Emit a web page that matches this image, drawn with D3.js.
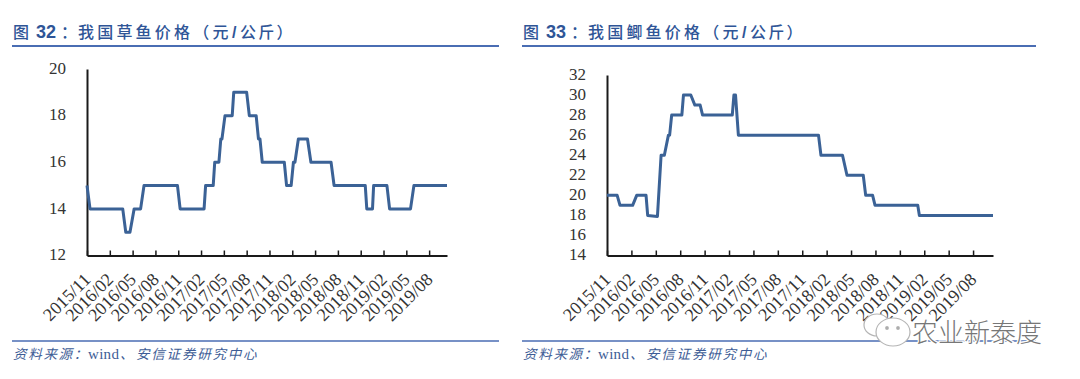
<!DOCTYPE html>
<html>
<head>
<meta charset="utf-8">
<script src="https://cdnjs.cloudflare.com/ajax/libs/d3/7.8.5/d3.min.js"></script>
<style>
  html, body { margin: 0; padding: 0; background: #fff; }
  svg { display: block; }
</style>
</head>
<body>
<svg id="chart" width="1080" height="379"></svg>
<script>
// tick labels every 3 months, shared by both charts
const tickLabels = ['2015/11', '2016/02', '2016/05', '2016/08', '2016/11', '2017/02', '2017/05', '2017/08',
    '2017/11', '2018/02', '2018/05', '2018/08', '2018/11', '2019/02', '2019/05', '2019/08'];
const tickMonths = tickLabels.map((d, i) => i * 3);

// months since 2015/11 and price
const grassMonths = [0, 0.4, 4.7, 5.1, 5.65, 6.2, 7.05, 7.5, 11.9, 12.25, 15.4, 15.6, 16.6, 16.8, 17.35, 17.6, 17.75,
    18.15, 19.1, 19.3, 21, 21.35, 22.25, 22.55, 22.75, 23.05, 25.95, 26.25, 26.85, 27.15, 27.35, 27.8, 29, 29.45,
    32.1, 32.5, 36.6, 36.8, 37.55, 37.7, 39.45, 39.8, 42.55, 43, 47.35];
const grassPrice = [15, 14, 14, 13, 13, 14, 14, 15, 15, 14, 14, 15, 15, 16, 16, 17, 17,
    18, 18, 19, 19, 18, 18, 17, 17, 16, 16, 15, 15, 16, 16, 17, 17, 16,
    16, 15, 15, 14, 14, 15, 15, 14, 14, 15, 15];

const crucianMonths = [0, 1.25, 1.6, 3.15, 3.65, 4.8, 5, 6.2, 6.65, 7.05, 7.55, 7.7, 7.95, 9.2, 9.4, 10.3, 10.8, 11.45,
    11.75, 15.4, 15.6, 15.8, 16.15, 26, 26.3, 28.95, 29.5, 31.5, 31.8, 32.65, 32.95, 38.2, 38.4, 47.45];
const crucianPrice = [20, 20, 19, 19, 20, 20, 18, 17.9, 24, 24, 26, 26, 28, 28, 30, 30, 29, 29,
    28, 28, 30, 30, 26, 26, 24, 24, 22, 22, 20, 20, 19, 19, 18, 18];

const grassTicks = [12, 14, 16, 18, 20];
const crucianTicks = [14, 16, 18, 20, 22, 24, 26, 28, 30, 32];

const blue = '#2f5597';
const cjk = '"Noto Sans CJK SC", sans-serif';
const svg = d3.select('#chart');

function drawPanel(o) {
    // title with the blue rule under it
    const title = svg.append('text')
        .attr('x', o.left + 1)
        .attr('y', 38)
        .attr('fill', blue)
        .style('font-family', cjk)
        .style('font-weight', 500)
        .style('font-size', '16px');
    title.append('tspan').text('图');
    title.append('tspan').attr('x', o.left + 24)
        .style('font-family', '"Liberation Sans", sans-serif')
        .style('font-weight', 700)
        .style('font-size', '18px')
        .text(o.number);
    title.append('tspan').attr('x', o.left + 49).text('：');
    title.append('tspan').attr('x', o.left + 66).style('letter-spacing', '3.2px').text(o.title);
    title.append('tspan').attr('x', o.left + 220)
        .style('font-family', '"Liberation Sans", sans-serif')
        .style('font-weight', 700)
        .text('/');
    title.append('tspan').attr('x', o.left + 228).style('letter-spacing', '2.2px').text('公斤）');

    svg.append('line')
        .attr('x1', o.left).attr('x2', o.right)
        .attr('y1', 46).attr('y2', 46)
        .attr('stroke', '#4a6db3')
        .attr('stroke-width', 2);

    // source line
    svg.append('line')
        .attr('x1', o.left).attr('x2', o.right)
        .attr('y1', 341).attr('y2', 341)
        .attr('stroke', '#4a6db3')
        .attr('stroke-width', 1.5);

    const source = svg.append('text')
        .attr('x', o.left + 1)
        .attr('y', 359)
        .attr('fill', '#3e5d96')
        .style('font-family', cjk)
        .style('font-style', 'italic')
        .style('font-size', '13.5px');
    source.append('tspan').style('letter-spacing', '1.7px').text('资料来源：');
    source.append('tspan').attr('x', o.left + 76)
        .style('font-family', '"Liberation Serif", serif')
        .style('font-style', 'normal')
        .style('font-size', '15px')
        .style('letter-spacing', '0.3px')
        .text('wind');
    source.append('tspan').attr('x', o.left + 108).text('、');
    source.append('tspan').attr('x', o.left + 124).style('letter-spacing', '1.8px').text('安信证券研究中心');

    const x = d3.scaleLinear().domain([0, o.months[o.months.length - 1]]).range([o.x0, o.x1]);
    const y = d3.scaleLinear().domain(d3.extent(o.yTicks)).range([255.5, o.top]);

    const xAxis = svg.append('g')
        .attr('transform', 'translate(0,255.5)')
        .call(d3.axisBottom(x)
            .tickValues(tickMonths)
            .tickFormat((d, i) => tickLabels[i])
            .tickSize(-5)
            .tickSizeOuter(0));
    xAxis.select('.domain').attr('stroke', '#1a1a1a').attr('stroke-width', 2);
    xAxis.selectAll('.tick line').attr('stroke', '#1a1a1a').attr('stroke-width', 1.5);
    xAxis.selectAll('.tick text')
        .attr('fill', '#333')
        .style('font-family', '"Liberation Serif", serif')
        .style('font-size', '18px')
        .attr('text-anchor', 'end')
        .attr('dy', 0)
        .attr('transform', 'translate(2,23) rotate(-45)');

    const yAxis = svg.append('g')
        .attr('transform', `translate(${o.x0},0)`)
        .call(d3.axisLeft(y).tickValues(o.yTicks).tickSize(0).tickPadding(21));
    yAxis.select('.domain').attr('stroke', '#1a1a1a').attr('stroke-width', 2);
    yAxis.selectAll('.tick text')
        .attr('fill', '#333')
        .attr('dy', '0.25em')
        .style('font-family', '"Liberation Serif", serif')
        .style('font-size', '17px');

    const line = d3.line()
        .x((d, i) => x(o.months[i]))
        .y(d => y(d));

    svg.append('path')
        .datum(o.values)
        .attr('d', line)
        .attr('fill', 'none')
        .attr('stroke', '#3b6296')
        .attr('stroke-width', 3)
        .attr('stroke-linejoin', 'round');
}

drawPanel({
    number: '32', title: '我国草鱼价格（元',
    left: 12, right: 499, x0: 87, x1: 447, top: 69,
    months: grassMonths, values: grassPrice, yTicks: grassTicks
});

drawPanel({
    number: '33', title: '我国鲫鱼价格（元',
    left: 522, right: 1036, x0: 607, x1: 993, top: 75,
    months: crucianMonths, values: crucianPrice, yTicks: crucianTicks
});

// watermark
const mark = svg.append('g').attr('fill', '#fff').attr('stroke', '#b5b5b5').attr('stroke-width', 1.2);
mark.append('ellipse').attr('cx', 877).attr('cy', 325).attr('rx', 13).attr('ry', 11);
mark.append('ellipse').attr('cx', 893).attr('cy', 332).attr('rx', 17).attr('ry', 14);
mark.append('circle').attr('cx', 887).attr('cy', 328).attr('r', 1.3).attr('fill', '#a0a0a0');
mark.append('circle').attr('cx', 898).attr('cy', 328).attr('r', 1.3).attr('fill', '#a0a0a0');

svg.append('text')
    .attr('x', 912)
    .attr('y', 342)
    .attr('fill', '#777')
    .attr('stroke', '#fff')
    .attr('stroke-width', 2.5)
    .style('paint-order', 'stroke')
    .style('font-family', cjk)
    .style('font-weight', 300)
    .style('font-size', '26px')
    .text('农业新泰度');
</script>
</body>
</html>
